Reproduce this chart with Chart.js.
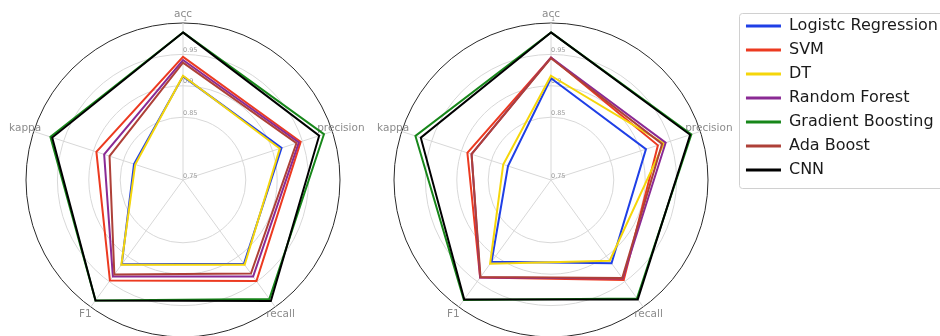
<!DOCTYPE html>
<html>
<head>
<meta charset="utf-8">
<script src="https://cdn.jsdelivr.net/npm/chart.js@4.4.1/dist/chart.umd.min.js"></script>
<style>
  html, body { margin: 0; padding: 0; background: #fff; overflow: hidden; width: 940px; height: 336px; }
  canvas { position: absolute; top: 0; }
  #left-radar { left: 0; }
  #right-radar { left: 366px; }
</style>
</head>
<body>
<canvas id="left-radar" width="370" height="340"></canvas>
<canvas id="right-radar" width="582" height="340"></canvas>
<script>
const metrics = ['acc', 'precision', 'recall', 'F1', 'kappa'];
const models = ['Logistc Regression', 'SVM', 'DT', 'Random Forest', 'Gradient Boosting', 'Ada Boost', 'CNN'];
const tickValues = [0.75, 0.85, 0.9, 0.95, 1];
const tickLabels = ['0.75', '0.85', '0.9', '0.95', '1'];

// left panel scores (acc, precision, recall, F1, kappa)
const lrLeft  = [0.915, 0.915, 0.915, 0.916, 0.832];
const svmLeft = [0.946, 0.947, 0.949, 0.948, 0.895];
const dtLeft  = [0.916, 0.912, 0.917, 0.917, 0.830];
const rfLeft  = [0.941, 0.944, 0.940, 0.940, 0.882];
const gbLeft  = [0.985, 0.986, 0.984, 0.987, 0.972];
const adaLeft = [0.937, 0.940, 0.934, 0.936, 0.873];
const cnnLeft = [0.985, 0.978, 0.988, 0.987, 0.969];

// right panel scores
const lrRight  = [0.912, 0.909, 0.914, 0.911, 0.822];
const svmRight = [0.945, 0.929, 0.947, 0.942, 0.890];
const dtRight  = [0.916, 0.939, 0.909, 0.915, 0.830];
const rfRight  = [0.945, 0.942, 0.944, 0.942, 0.883];
const gbRight  = [0.985, 0.985, 0.983, 0.986, 0.977];
const adaRight = [0.944, 0.936, 0.943, 0.941, 0.883];
const cnnRight = [0.985, 0.983, 0.985, 0.985, 0.968];

const lineColors = ['#1f3fe6', '#ec3a20', '#f5d60a', '#8a2a94', '#17871a', '#ae4038', '#000000'];

function makeDatasets(scores) {
    return scores.map((data, i) => ({
        label: models[i],
        data: data,
        borderColor: lineColors[i],
        backgroundColor: lineColors[i],
        borderWidth: 2,
        fill: false,
        pointRadius: 0,
        pointHoverRadius: 0,
        tension: 0,
        order: -i   // later models sit on top
    }));
}

// radial tick labels and metric names, drawn under the lines
const radarText = {
    id: 'radarText',
    beforeDatasetsDraw(chart) {
        const r = chart.scales.r;
        const ctx = chart.ctx;
        ctx.save();
        ctx.fillStyle = '#9a9a9a';
        ctx.font = '6.5px "DejaVu Sans"';
        ctx.textAlign = 'left';
        ctx.textBaseline = 'middle';
        tickValues.forEach((v, i) => {
            const p = r.getPointPositionForValue(0, v);
            ctx.fillText(tickLabels[i], p.x, p.y - 4);
        });
        ctx.font = '10.5px "DejaVu Sans"';
        ctx.fillStyle = '#8c8c8c';
        ctx.textAlign = 'center';
        chart.data.labels.forEach((lab, i) => {
            const p = r.getPointPosition(i, r.drawingArea + 9);
            ctx.fillText(lab, p.x, p.y);
        });
        ctx.restore();
    }
};

// rounded frame behind the legend entries
const legendFrame = {
    id: 'legendFrame',
    beforeDraw(chart) {
        const lg = chart.legend;
        if (!lg || !lg.legendHitBoxes || !lg.legendHitBoxes.length) return;
        const boxes = lg.legendHitBoxes;
        const last = boxes[boxes.length - 1];
        const x = Math.round(lg.left) + 1.5;
        const y = Math.round(boxes[0].top) - 4.5;
        const h = Math.round(last.top + last.height) + 10.5 - y;
        const ctx = chart.ctx;
        ctx.save();
        ctx.strokeStyle = '#d0d0d0';
        ctx.lineWidth = 1;
        ctx.beginPath();
        ctx.roundRect(x, y, chart.width + 20 - x, h, 3);
        ctx.stroke();
        ctx.restore();
    }
};

function radarOptions(padding, withLegend) {
    return {
        responsive: false,
        animation: false,
        events: [],
        layout: { padding: padding },
        plugins: {
            tooltip: { enabled: false },
            title: withLegend
                ? { display: true, text: ' ', fullSize: false, padding: 0, font: { size: 10, lineHeight: 1.3 } }
                : { display: false },
            legend: withLegend ? {
                display: true,
                position: 'right',
                align: 'start',
                labels: {
                    usePointStyle: true,
                    pointStyle: 'line',
                    pointStyleWidth: 35,
                    padding: 8,
                    color: '#1a1a1a',
                    font: { family: 'DejaVu Sans', size: 16 },
                    sort: (a, b) => a.datasetIndex - b.datasetIndex,
                    generateLabels: c => Chart.defaults.plugins.legend.labels.generateLabels(c)
                        .map(item => Object.assign(item, { lineWidth: 3 }))
                }
            } : { display: false }
        },
        scales: {
            r: {
                min: 0.75,
                max: 1,
                afterBuildTicks: s => { s.ticks = tickValues.map(v => ({ value: v })); },
                ticks: { display: false },
                pointLabels: { display: false },
                grid: {
                    circular: true,
                    lineWidth: 1,
                    color: c => (c.tick && c.tick.value === 1) ? '#2a2a2a' : '#d8d8d8'
                },
                angleLines: { color: '#d8d8d8', lineWidth: 1 }
            }
        }
    };
}

new Chart(document.getElementById('left-radar'), {
    type: 'radar',
    data: {
        labels: metrics,
        datasets: makeDatasets([lrLeft, svmLeft, dtLeft, rfLeft, gbLeft, adaLeft, cnnLeft])
    },
    options: radarOptions({ left: 26, right: 30, top: 23, bottom: 3 }, false),
    plugins: [radarText]
});

new Chart(document.getElementById('right-radar'), {
    type: 'radar',
    data: {
        labels: metrics,
        datasets: makeDatasets([lrRight, svmRight, dtRight, rfRight, gbRight, adaRight, cnnRight])
    },
    options: radarOptions({ left: 0, right: 0, top: 10, bottom: 3 }, true),
    plugins: [radarText, legendFrame]
});
</script>
</body>
</html>
